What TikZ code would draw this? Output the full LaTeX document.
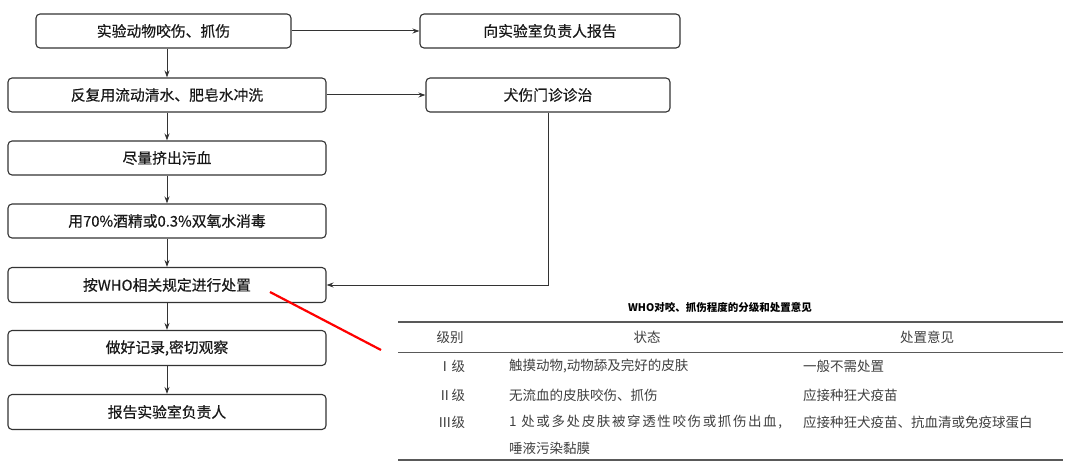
\documentclass[tikz,border=0pt]{standalone}
\usepackage{fontspec}
\newfontfamily\cjk{Noto Sans CJK SC}
\newfontfamily\cjkm[FakeBold=0.5]{Noto Sans CJK SC}
\usetikzlibrary{arrows.meta}
\begin{document}
\begin{tikzpicture}[x=1pt,y=-1pt,
  box/.style={draw=black!80, rounded corners=4pt, line width=1.1pt, minimum height=34pt, inner sep=0pt, text=black!90, font=\cjkm\fontsize{14.8}{17}\selectfont},
  arr/.style={draw=black!80, line width=1pt, -{Stealth[length=7pt,width=5pt]}},
  cell/.style={anchor=west, inner sep=0pt, text=black!75, font=\cjk\fontsize{13.5}{16}\selectfont},
  head/.style={inner sep=0pt, text=black!75, font=\cjk\fontsize{13.5}{16}\selectfont},
  rule/.style={draw=black!65}
]
\useasboundingbox[fill=white] (0,0) rectangle (1080,476);
% flow boxes
\node[box, minimum width=255pt] (b1) at (163.5,31) {实验动物咬伤、抓伤};
\node[box, minimum width=260pt] (r1) at (550,31) {向实验室负责人报告};
\node[box, minimum width=318pt] (b2) at (167,95) {反复用流动清水、肥皂水冲洗};
\node[box, minimum width=244pt] (r2) at (548,95) {犬伤门诊诊治};
\node[box, minimum width=318pt] (b3) at (167,158) {尽量挤出污血};
\node[box, minimum width=318pt] (b4) at (167,221) {用70\%酒精或0.3\%双氧水消毒};
\node[box, minimum width=318pt, minimum height=35pt] (b5) at (167,285) {按WHO相关规定进行处置};
\node[box, minimum width=318pt, minimum height=35pt] (b6) at (167,348) {做好记录,密切观察};
\node[box, minimum width=318pt, minimum height=35pt] (b7) at (167,412) {报告实验室负责人};
% connectors
\draw[arr] (b1) -- (r1);
\draw[arr] (b2) -- (r2);
\draw[arr] (b1.south -| b2.north) -- (b2.north);
\draw[arr] (b2) -- (b3);
\draw[arr] (b3) -- (b4);
\draw[arr] (b4) -- (b5);
\draw[arr] (b5) -- (b6);
\draw[arr] (b6) -- (b7);
\draw[arr] (r2.south) |- (b5.east);
% red pointer
\coordinate (p1) at (270,292);
\coordinate (p2) at (381,350);
\draw[red, line width=2.2pt] (p1) -- (p2);
% table
\node[inner sep=0pt, font=\cjk\bfseries\fontsize{10.5}{12}\selectfont] (title) at (720,307) {WHO对咬、抓伤程度的分级和处置意见};
\coordinate (tl) at (398,322); \coordinate (tr) at (1063,322);
\coordinate (ml) at (398,352); \coordinate (mr) at (1063,352);
\coordinate (bl) at (398,460); \coordinate (br) at (1063,460);
\draw[rule, line width=1.6pt] (tl) -- (tr);
\draw[rule, line width=0.8pt] (ml) -- (mr);
\draw[rule, line width=1.6pt] (bl) -- (br);
\node[head] (h1) at (450,337) {级别};
\node[head] (h2) at (647,337) {状态};
\node[head] (h3) at (927,337) {处置意见};
\node[cell] (g1) at (438,366) {Ⅰ级};
\node[cell] (g2) at (438,395) {Ⅱ级};
\node[cell] (g3) at (438,422) {Ⅲ级};
\node[cell] (s1) at (509,366) {触摸动物,动物舔及完好的皮肤};
\node[cell] (s2) at (509,395) {无流血的皮肤咬伤、抓伤};
\node[cell, font=\cjk\addfontfeature{LetterSpace=12}\fontsize{13.5}{16}\selectfont] (s3) at (509,422) {1 处或多处皮肤被穿透性咬伤或抓伤出血,};
\node[cell] (s4) at (509,448) {唾液污染黏膜};
\node[cell] (d1) at (803,366) {一般不需处置};
\node[cell] (d2) at (803,395) {应接种狂犬疫苗};
\node[cell] (d3) at (803,422) {应接种狂犬疫苗、抗血清或免疫球蛋白};
\end{tikzpicture}
\end{document}
